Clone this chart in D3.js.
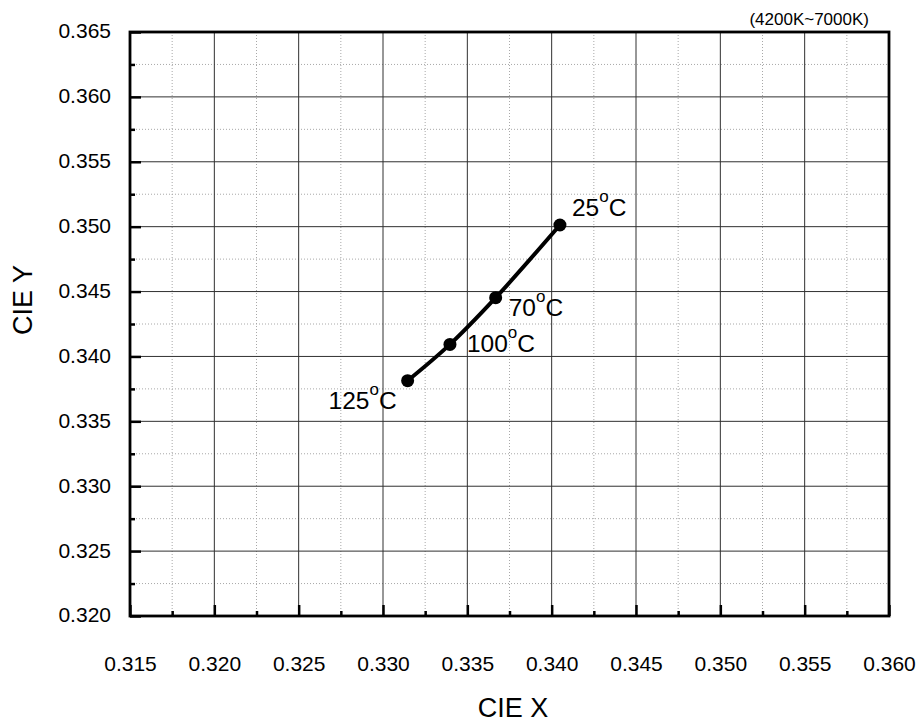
<!DOCTYPE html>
<html>
<head>
<meta charset="utf-8">
<script src="https://cdn.jsdelivr.net/npm/d3@7"></script>
<style>
  html, body { margin: 0; padding: 0; background: #fff; }
  svg { display: block; font-family: "Liberation Sans", Arial, sans-serif; }
</style>
</head>
<body>
<svg id="chart" width="920" height="727"></svg>
<script>
// ---- data ----
const temps   = ["25", "70", "100", "125"];
const cieX    = [0.34049, 0.33668, 0.33397, 0.33146];
const cieY    = [0.35013, 0.34453, 0.34093, 0.33813];
const xTicks  = [0.315, 0.320, 0.325, 0.330, 0.335, 0.340, 0.345, 0.350, 0.355, 0.360];
const yTicks  = [0.320, 0.325, 0.330, 0.335, 0.340, 0.345, 0.350, 0.355, 0.360, 0.365];
const xMinor  = [0.3175, 0.3225, 0.3275, 0.3325, 0.3375, 0.3425, 0.3475, 0.3525, 0.3575];
const yMinor  = [0.3225, 0.3275, 0.3325, 0.3375, 0.3425, 0.3475, 0.3525, 0.3575, 0.3625];
const note    = "(4200K~7000K)";
const xTitle  = "CIE X";
const yTitle  = "CIE Y";

// ---- layout ----
const L = 130, R = 889, T = 32, B = 616;
const svg = d3.select("#chart");
const x = d3.scaleLinear().domain([0.315, 0.360]).range([L, R]);
const y = d3.scaleLinear().domain([0.320, 0.365]).range([B, T]);

// minor grid (dotted)
const g = svg.append("g");
g.selectAll(".vmin").data(xMinor).join("line")
  .attr("x1", d => x(d)).attr("x2", d => x(d)).attr("y1", T).attr("y2", B)
  .attr("stroke", "#a8a8a8").attr("stroke-width", 1).attr("stroke-dasharray", "1,2");
g.selectAll(".hmin").data(yMinor).join("line")
  .attr("y1", d => y(d)).attr("y2", d => y(d)).attr("x1", L).attr("x2", R)
  .attr("stroke", "#a8a8a8").attr("stroke-width", 1).attr("stroke-dasharray", "1,2");
// major grid (solid)
g.selectAll(".vmaj").data(xTicks).join("line")
  .attr("x1", d => x(d)).attr("x2", d => x(d)).attr("y1", T).attr("y2", B)
  .attr("stroke", "#303030").attr("stroke-width", 1);
g.selectAll(".hmaj").data(yTicks).join("line")
  .attr("y1", d => y(d)).attr("y2", d => y(d)).attr("x1", L).attr("x2", R)
  .attr("stroke", "#303030").attr("stroke-width", 1);

// axes (ticks inward)
const fmt = d3.format(".3f");
const xAxis = svg.append("g").attr("transform", `translate(0,${B})`)
  .call(d3.axisBottom(x).tickValues(xTicks).tickFormat(fmt).tickSizeInner(-11).tickSizeOuter(0).tickPadding(40));
const xAxisMinor = svg.append("g").attr("transform", `translate(0,${B})`)
  .call(d3.axisBottom(x).tickValues(xMinor).tickFormat("").tickSizeInner(-5).tickSizeOuter(0));
const yAxis = svg.append("g").attr("transform", `translate(${L},0)`)
  .call(d3.axisLeft(y).tickValues(yTicks).tickFormat(fmt).tickSizeInner(-11).tickSizeOuter(0).tickPadding(19));
const yAxisMinor = svg.append("g").attr("transform", `translate(${L},0)`)
  .call(d3.axisLeft(y).tickValues(yMinor).tickFormat("").tickSizeInner(-5).tickSizeOuter(0));

[xAxis, xAxisMinor, yAxis, yAxisMinor].forEach(a => {
  a.select(".domain").remove();
  a.selectAll(".tick line").attr("stroke", "#000").attr("stroke-width", 2.5);
  a.selectAll(".tick text").attr("fill", "#000").attr("font-size", 21)
    .attr("font-family", "'Liberation Sans', Arial, sans-serif");
});
yAxis.selectAll(".tick text").attr("dy", "0.28em");

// frame
svg.append("rect").attr("x", L).attr("y", T).attr("width", R - L).attr("height", B - T)
  .attr("fill", "none").attr("stroke", "#000").attr("stroke-width", 2.8);

// data line
const pts = cieX.map((v, i) => ({ x: v, y: cieY[i], t: temps[i] }));
const sorted = pts.slice().sort((a, b) => a.x - b.x);
svg.append("path").datum(sorted)
  .attr("d", d3.line().x(d => x(d.x)).y(d => y(d.y)).curve(d3.curveCatmullRom.alpha(0.5)))
  .attr("fill", "none").attr("stroke", "#000").attr("stroke-width", 4);
svg.selectAll(".pt").data(pts).join("circle")
  .attr("cx", d => x(d.x)).attr("cy", d => y(d.y)).attr("r", 6.5).attr("fill", "#000");

// labels
const offs = { "25": [12, -9, "start"], "70": [13, 18, "start"], "100": [17, 8, "start"], "125": [-11, 28, "end"] };
const lab = svg.selectAll(".lab").data(pts).join("text")
  .attr("x", d => x(d.x) + offs[d.t][0]).attr("y", d => y(d.y) + offs[d.t][1])
  .attr("text-anchor", d => offs[d.t][2]).attr("font-size", 24.5).attr("fill", "#000");
lab.append("tspan").text(d => d.t);
lab.append("tspan").attr("font-size", 17).attr("dy", -14).text("o");
lab.append("tspan").attr("dy", 14).text("C");

// titles
svg.append("text").attr("x", 513).attr("y", 717).attr("text-anchor", "middle")
  .attr("font-size", 27).text(xTitle);
svg.append("text").attr("transform", "translate(32,300) rotate(-90)").attr("text-anchor", "middle")
  .attr("font-size", 27).text(yTitle);
svg.append("text").attr("x", 869).attr("y", 25).attr("text-anchor", "end")
  .attr("font-size", 17).text(note);
</script>
</body>
</html>
